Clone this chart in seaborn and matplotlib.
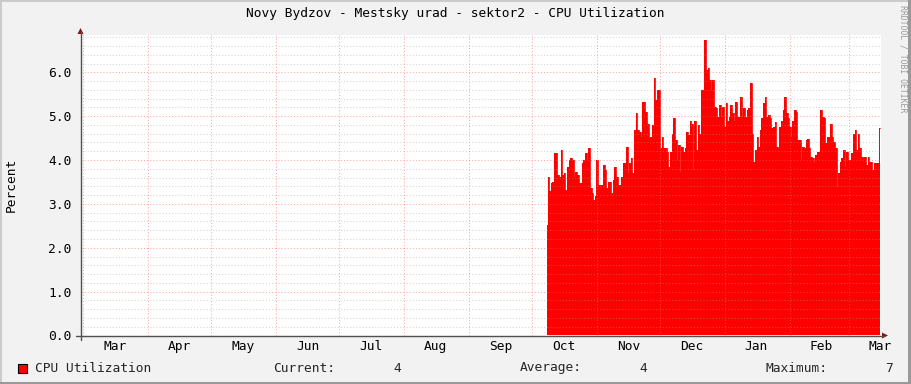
import numpy as np
import pandas as pd
import matplotlib
matplotlib.use("Agg")
import matplotlib.pyplot as plt
import matplotlib.dates as mdates
from matplotlib.ticker import MultipleLocator, FixedLocator, FormatStrFormatter
from matplotlib.lines import Line2D
from matplotlib.patches import Rectangle, Polygon
import seaborn as sns

# ---------------- data ----------------
title = "Novy Bydzov - Mestsky urad - sektor2 - CPU Utilization"
y_label = "Percent"
series_name = "CPU Utilization"
cpu_start = "2010-10-08 00:00"
cpu_end = "2011-03-15 21:30"
cpu_values = [
    2.52, 3.62, 3.30, 3.48, 3.50, 4.15, 4.15, 3.66, 3.62, 4.23, 3.66, 3.70, 3.32, 3.85, 4.00, 4.04, 4.00,
    3.62, 3.73, 3.66, 3.48, 3.48, 3.93, 4.00, 4.15, 4.00, 4.27, 3.36, 3.25, 3.09, 3.17, 4.00, 3.43, 3.43,
    3.43, 3.89, 3.77, 3.36, 3.50, 3.50, 3.25, 3.55, 3.85, 3.62, 3.43, 3.43, 3.62, 3.93, 3.93, 4.30, 3.70,
    3.93, 4.04, 3.70, 4.68, 5.07, 4.68, 4.65, 4.53, 5.33, 5.33, 5.10, 4.83, 4.50, 4.53, 4.80, 5.86, 5.36,
    5.59, 5.60, 4.27, 4.53, 4.27, 4.27, 4.19, 3.85, 4.19, 4.60, 4.95, 4.45, 4.00, 4.34, 3.73, 4.30, 4.19,
    4.27, 4.64, 4.57, 4.90, 4.83, 3.77, 4.90, 4.23, 4.80, 4.60, 5.59, 5.59, 6.73, 6.05, 6.09, 5.82, 5.59,
    5.82, 5.21, 5.18, 4.98, 5.25, 4.98, 5.21, 4.76, 5.30, 4.90, 4.98, 5.25, 5.07, 4.90, 5.33, 4.98, 4.98,
    5.44, 4.98, 5.18, 4.98, 5.14, 5.18, 5.75, 4.60, 3.96, 4.23, 4.53, 4.30, 4.68, 4.95, 5.30, 5.44, 4.98,
    5.02, 4.95, 4.72, 4.76, 4.87, 4.30, 4.27, 4.76, 4.90, 5.14, 5.44, 5.07, 4.95, 4.76, 4.53, 4.90, 5.14,
    5.10, 4.45, 4.45, 4.00, 4.30, 4.27, 4.45, 4.48, 4.27, 4.07, 4.04, 3.93, 4.11, 4.19, 4.19, 5.14, 4.98,
    4.95, 4.38, 4.53, 4.53, 4.83, 4.53, 4.42, 4.27, 3.39, 3.70, 3.96, 4.04, 4.23, 3.85, 4.19, 4.00, 4.00,
    4.15, 4.60, 4.68, 4.23, 4.60, 4.27, 4.07, 4.04, 4.07, 3.89, 4.07, 3.96, 3.96, 3.77, 3.93, 3.93, 3.93,
    4.72,
]
legend_labels = ["Current:", "Average:", "Maximum:"]
legend_values = ["4", "4", "7"]
y_ticks = [0.0, 1.0, 2.0, 3.0, 4.0, 5.0, 6.0]
watermark = "RRDTOOL / TOBI OETIKER"

# ---------------- style ----------------
sns.set_style("white")
plt.rcParams["font.family"] = ["DejaVu Sans Mono", "DejaVu Sans"]
FS = 9.3

W, H = 911, 384
def fx(x):
    return x / W
def fy(y):
    return 1 - y / H

fig = plt.figure(figsize=(W / 100, H / 100), dpi=100, facecolor="#F2F2F2")

ax_left, ax_right, ax_top, ax_bottom = 80.5, 880.5, 35.0, 335.5
ax = fig.add_axes([fx(ax_left), fy(ax_bottom), (ax_right - ax_left) / W, (ax_bottom - ax_top) / H])
ax.set_facecolor("white")

dates = pd.date_range(cpu_start, cpu_end, periods=len(cpu_values))
df = pd.DataFrame({"time": dates, "cpu": cpu_values})

ax.fill_between(df["time"], df["cpu"], step="mid", color="#FF0000", lw=0, zorder=1)
sns.lineplot(data=df, x="time", y="cpu", drawstyle="steps-mid", color="#FF0000", lw=0.6, ax=ax, zorder=1.2)

ax.set_xlim(pd.Timestamp("2010-02-27 15:50"), pd.Timestamp("2011-03-16 05:00"))
ax.set_ylim(0, 6.85)

# grids
ax.set_axisbelow(False)
ax.yaxis.set_major_locator(FixedLocator(y_ticks))
ax.yaxis.set_major_formatter(FormatStrFormatter("%.1f"))
ax.yaxis.set_minor_locator(MultipleLocator(0.2))
ax.xaxis.set_major_locator(mdates.MonthLocator())
ax.xaxis.set_major_formatter(plt.NullFormatter())
ax.xaxis.set_minor_locator(mdates.MonthLocator(bymonthday=16))
ax.xaxis.set_minor_formatter(mdates.DateFormatter("%b"))

ax.grid(which="minor", axis="y", color="#A0A0A0", alpha=0.45, ls=(0, (1, 2)), lw=0.75)
ax.grid(which="major", axis="y", color="#FF6060", alpha=0.55, ls=(0, (1, 2)), lw=0.75)
ax.grid(which="major", axis="x", color="#FF6060", alpha=0.55, ls=(0, (1, 2)), lw=0.75)

for s in ax.spines.values():
    s.set_visible(False)

ax.tick_params(axis="y", which="major", direction="out", length=2.5, width=0.8, color="#E08080",
               pad=4, labelsize=FS, labelcolor="#000000")
ax.tick_params(axis="y", which="minor", direction="out", length=2.0, width=0.6, color="#A0A0A0")
ax.tick_params(axis="x", which="major", direction="out", length=2.5, width=0.8, color="#E08080")
ax.tick_params(axis="x", which="minor", length=0, pad=3.5, labelsize=FS, labelcolor="#000000")
ax.set_xlabel("")
ax.set_ylabel("")

# axis lines and arrows
axis_col = "#505050"
arrow_col = "#801818"
fig.add_artist(Line2D([fx(ax_left), fx(ax_left)], [fy(340), fy(32)], color=axis_col, lw=1.0))
fig.add_artist(Line2D([fx(76), fx(883)], [fy(ax_bottom), fy(ax_bottom)], color=axis_col, lw=1.0))
fig.add_artist(Polygon([(fx(ax_left), fy(28)), (fx(ax_left - 3), fy(34)), (fx(ax_left + 3), fy(34))],
                       closed=True, color=arrow_col, lw=0))
fig.add_artist(Polygon([(fx(888), fy(ax_bottom)), (fx(882), fy(ax_bottom - 3)), (fx(882), fy(ax_bottom + 3))],
                       closed=True, color=arrow_col, lw=0))

# texts
fig.text(fx(455), fy(14), title, ha="center", va="center", fontsize=FS, color="#000000")
fig.text(fx(11), fy(185), y_label, ha="center", va="center", rotation=90, fontsize=FS, color="#000000")
fig.text(fx(903), fy(5), watermark, ha="center", va="top", rotation=270, fontsize=5.9, color="#9A9A9A")

# legend
leg_y = 368
fig.add_artist(Rectangle((fx(17.5), fy(373)), 9.5 / W, 9.5 / H, facecolor="#FF0000",
                         edgecolor="#000000", lw=0.8))
fig.text(fx(35), fy(leg_y), series_name, ha="left", va="center", fontsize=FS)
label_x = [273, 520, 766]
value_x = [401, 647, 893]
for lab, val, lx, vx in zip(legend_labels, legend_values, label_x, value_x):
    fig.text(fx(lx), fy(leg_y), lab, ha="left", va="center", fontsize=FS)
    fig.text(fx(vx), fy(leg_y), val, ha="right", va="center", fontsize=FS)

# frame shading
fig.add_artist(Rectangle((0, fy(2)), 1, 2 / H, facecolor="#CBCBCB", lw=0))
fig.add_artist(Rectangle((0, 0), 2 / W, 1, facecolor="#CBCBCB", lw=0))
fig.add_artist(Rectangle((0, 0), 1, 2 / H, facecolor="#999999", lw=0))
fig.add_artist(Rectangle((1 - 3 / W, 0), 3 / W, 1, facecolor="#999999", lw=0))

fig.savefig("out.png", dpi=100, facecolor=fig.get_facecolor())
